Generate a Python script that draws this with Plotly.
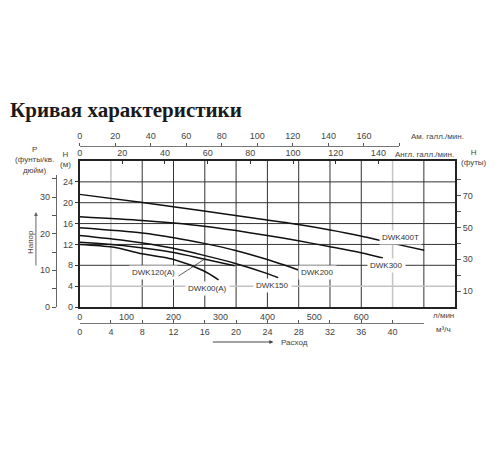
import plotly.graph_objects as go

# pump curves: flow in l/min, head in m
q_400t = [0, 130, 265, 366, 466, 531, 599, 667, 734]
h_400t = [21.6, 20.1, 18.4, 17.1, 15.8, 14.8, 13.6, 12.2, 10.9]
q_300 = [0, 133, 201, 265, 330, 400, 466, 531, 599, 646]
h_300 = [17.3, 16.6, 16.1, 15.5, 14.7, 13.7, 12.7, 11.6, 10.4, 9.4]
q_200 = [0, 133, 201, 265, 330, 400, 466]
h_200 = [15.2, 14.2, 13.3, 12.2, 10.9, 9.1, 7.1]
q_150 = [0, 100, 197, 265, 330, 400, 423]
h_150 = [13.7, 12.7, 11.3, 9.9, 8.4, 6.4, 5.6]
q_120a = [0, 100, 197, 265, 330]
h_120a = [12.4, 11.7, 10.5, 9.2, 7.9]
q_00a = [0, 70, 133, 197, 265, 296]
h_00a = [12.0, 11.5, 10.2, 9.2, 6.9, 5.2]

lmin_ticks = [0, 100, 200, 300, 400, 500, 600]
m3h_ticks = [0, 4, 8, 12, 16, 20, 24, 28, 32, 36, 40, 44]
usgpm_ticks = [0, 20, 40, 60, 80, 100, 120, 140, 160, 180]
impgpm_ticks = [0, 20, 40, 60, 80, 100, 120, 140]
h_ticks = [0, 4, 8, 12, 16, 20, 24]
psi_ticks = [0, 5, 10, 15, 20, 25, 30, 35]
ft_ticks = [10, 20, 30, 40, 50, 60, 70, 80]

grid_m3h = [4, 8, 12, 16, 20, 24, 28, 32, 36, 40, 44]
grid_m3h_light = [4, 40]
grid_h = [4, 8, 12, 16, 20, 24]
grid_h_light = [4]

Q_MAX = 800      # l/min at right edge
H_MAX = 28       # m at top edge

# page geometry: page pixels -> paper fractions (page body has an 8px margin)
OFF = 8
W, H = 484, 434
ML, MR, MT, MB = 12, 12, 117, 107
PW, PH = W - ML - MR, H - MT - MB
X0, X1 = 77, 455     # plot left/right on the page
Y0, Y1 = 307, 161    # plot bottom/top on the page


def fx(px):
    return (px - OFF - ML) / PW


def fy(py):
    return (H - MB - (py - OFF)) / PH


def x_end(lmin):
    return fx(X0 + lmin / Q_MAX * (X1 - X0))


tick_font = dict(family="Liberation Sans", size=9, color="#444")
lab_font = dict(family="Liberation Sans", size=8, color="#333")

fig = go.Figure()

curves = [
    (q_400t, h_400t), (q_300, h_300), (q_200, h_200),
    (q_150, h_150), (q_120a, h_120a), (q_00a, h_00a),
]
for q, h in curves:
    fig.add_trace(go.Scatter(x=q, y=h, mode="lines", showlegend=False,
                             line=dict(color="#111", width=1.5, shape="spline", smoothing=0.8),
                             hoverinfo="skip"))

# empty traces so the extra unit axes get drawn
for xa, ya in [("x2", "y"), ("x3", "y"), ("x4", "y"), ("x", "y2"), ("x", "y3")]:
    fig.add_trace(go.Scatter(x=[None], y=[None], xaxis=xa, yaxis=ya, mode="lines",
                             showlegend=False, hoverinfo="skip"))

shapes = []
for v in grid_m3h:
    light = v in grid_m3h_light
    shapes.append(dict(type="line", xref="x", yref="y domain", layer="below",
                       x0=v * 1000 / 60, x1=v * 1000 / 60, y0=0, y1=1,
                       line=dict(color="#c4c4c4" if light else "#333", width=1.5 if light else 1)))
for v in grid_h:
    light = v in grid_h_light
    shapes.append(dict(type="line", xref="x domain", yref="y", layer="below",
                       x0=0, x1=1, y0=v, y1=v,
                       line=dict(color="#c4c4c4" if light else "#333", width=1.5 if light else 1)))

psi_top = (Y0 - 175) * H_MAX / (Y0 - Y1) * 1.42233

fig.update_layout(
    width=W, height=H,
    margin=dict(l=ML, r=MR, t=MT, b=MB),
    paper_bgcolor="white", plot_bgcolor="rgba(0,0,0,0)",
    title=dict(text="Кривая характеристики", xref="container", yref="container",
               x=(10 - OFF) / W, xanchor="left", y=1 - (110 - OFF) / H, yanchor="middle",
               font=dict(family="Liberation Serif", size=21, color="#1a1a1a", weight="bold")),
    shapes=shapes,
    xaxis=dict(domain=[fx(X0), fx(X1)], range=[0, Q_MAX], tickvals=lmin_ticks,
               showgrid=False, zeroline=False, showline=True,
               linecolor="#222", linewidth=1.5, ticks="", tickfont=tick_font),
    xaxis2=dict(anchor="free", position=fy(323), side="bottom",
                domain=[fx(X0), x_end(44 * 1000 / 60)], range=[0, 44],
                tickvals=m3h_ticks, ticktext=[str(v) if v < 44 else "" for v in m3h_ticks],
                showgrid=False, zeroline=False, showline=True, linecolor="#777",
                ticks="inside", ticklen=3, tickcolor="#555", tickfont=tick_font),
    xaxis3=dict(anchor="free", position=fy(146), side="top",
                domain=[fx(X0), x_end(180 * 3.78541)], range=[0, 180],
                tickvals=usgpm_ticks, ticktext=[str(v) if v < 180 else "" for v in usgpm_ticks],
                showgrid=False, zeroline=False, showline=True, linecolor="#777",
                ticks="outside", ticklen=3, tickcolor="#555", tickfont=tick_font),
    xaxis4=dict(overlaying="x", anchor="y", side="top", range=[0, Q_MAX / 4.54609],
                tickvals=impgpm_ticks, showgrid=False, zeroline=False,
                showline=True, linecolor="#222", linewidth=1.5,
                ticks="inside", ticklen=3, tickcolor="#333", tickfont=tick_font),
    yaxis=dict(domain=[fy(Y0), fy(Y1)], range=[0, H_MAX], tickvals=h_ticks,
               showgrid=False, zeroline=False, showline=True,
               linecolor="#222", linewidth=1.5, ticks="outside", ticklen=3,
               tickcolor="#333", tickfont=tick_font),
    yaxis2=dict(anchor="free", position=fx(53), side="left",
                domain=[fy(Y0), fy(175)], range=[0, psi_top],
                tickvals=psi_ticks, ticktext=[str(v) if v % 10 == 0 else "" for v in psi_ticks],
                showgrid=False, zeroline=False, showline=True, linecolor="#666",
                ticks="outside", ticklen=4, tickcolor="#555", tickfont=tick_font),
    yaxis3=dict(overlaying="y", anchor="x", side="right", range=[0, H_MAX * 3.28084],
                tickvals=ft_ticks, ticktext=[str(v) if v % 20 == 10 else "" for v in ft_ticks],
                showgrid=False, zeroline=False, showline=True, linecolor="#222", linewidth=1.5,
                ticks="outside", ticklen=4, tickcolor="#555", tickfont=tick_font),
)


def q_of(px):
    return (px - X0) / (X1 - X0) * Q_MAX


def h_of(py):
    return (Y0 - py) / (Y0 - Y1) * H_MAX


labels = [
    ("DWK400T", 400, 237), ("DWK300", 386, 265), ("DWK200", 316, 272),
    ("DWK150", 271, 285), ("DWK120(A)", 151, 272), ("DWK00(A)", 206, 288),
]
for text, px, py in labels:
    fig.add_annotation(x=q_of(px), y=h_of(py), xref="x", yref="y", text=text,
                       showarrow=False, font=lab_font, bgcolor="white", borderpad=2)

# leader line for DWK120(A)
fig.add_annotation(x=q_of(203), y=h_of(259), xref="x", yref="y", text="",
                   showarrow=True, arrowhead=0, arrowwidth=0.8, arrowcolor="#333",
                   axref="x", ayref="y", ax=q_of(175), ay=h_of(277))

side_font = dict(family="Liberation Sans", size=8, color="#444")
texts = [
    ("P<br>(фунты/кв.<br>дюйм)", 32, 160),
    ("H<br>(м)", 63, 159),
    ("H<br>(футы)", 474, 157),
    ("Ам. галл./мин.", 437, 136),
    ("Англ. галл./мин.", 424, 154),
    ("л/мин", 443, 315),
    ("м³/ч", 443, 329),
]
for text, px, py in texts:
    fig.add_annotation(x=fx(px), y=fy(py), xref="paper", yref="paper", text=text,
                       xanchor="center", yanchor="middle", showarrow=False, font=side_font)

fig.add_annotation(x=fx(27), y=fy(242), xref="paper", yref="paper", text="Напор",
                   xanchor="center", yanchor="middle",
                   textangle=-90, showarrow=False, font=side_font)
fig.add_annotation(x=fx(33), y=fy(212), xref="paper", yref="paper", text="",
                   showarrow=True, arrowhead=2, arrowsize=0.8, arrowwidth=1, arrowcolor="#666",
                   ax=0, ay=55)
fig.add_annotation(x=fx(278), y=fy(342), xref="paper", yref="paper", text="Расход",
                   xanchor="left", yanchor="middle", showarrow=False, font=side_font)
fig.add_annotation(x=fx(272), y=fy(342), xref="paper", yref="paper", text="",
                   showarrow=True, arrowhead=2, arrowsize=0.8, arrowwidth=1, arrowcolor="#444",
                   ax=-62, ay=0)

fig.write_html("out.html")
